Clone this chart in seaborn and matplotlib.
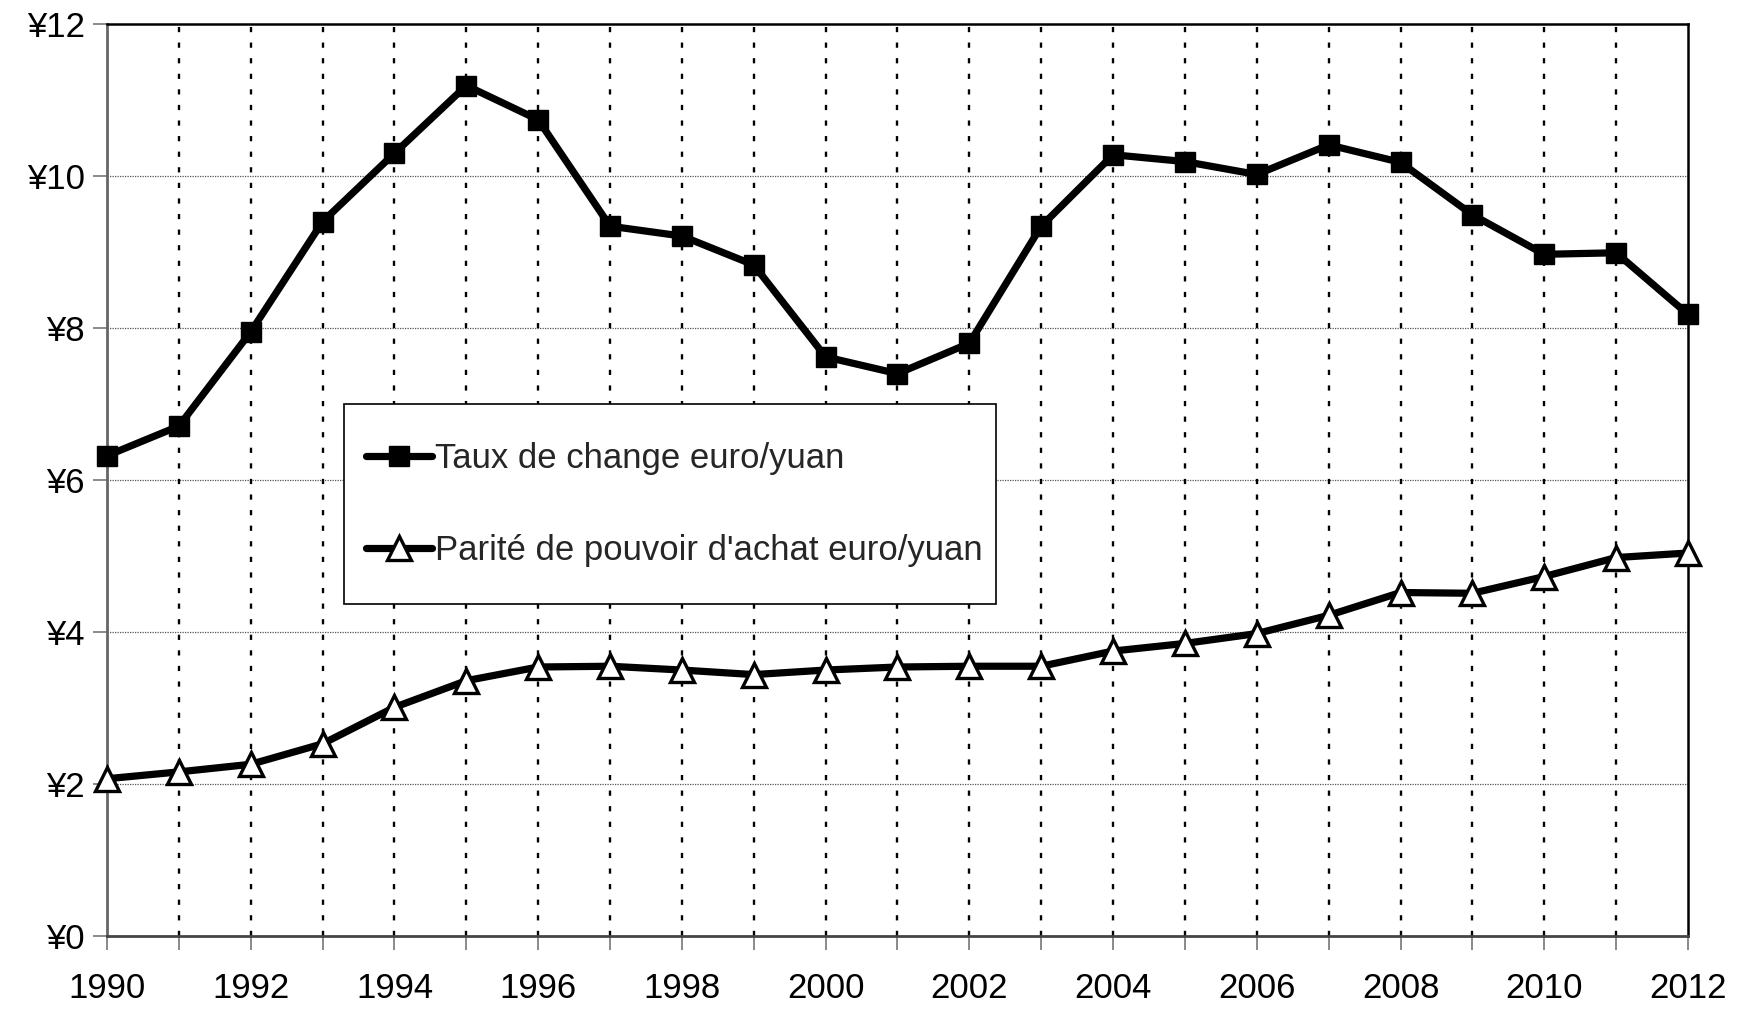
import matplotlib
matplotlib.use("Agg")
import seaborn as sns
import numpy as np
import pandas as pd
import matplotlib.pyplot as plt
from matplotlib.patches import Rectangle
from matplotlib.ticker import FuncFormatter, MultipleLocator

years = list(range(1990, 2013))
taux_change = [6.32, 6.71, 7.95, 9.40, 10.30, 11.19, 10.74, 9.34, 9.21, 8.83,
               7.62, 7.40, 7.80, 9.34, 10.28, 10.19, 10.02, 10.41, 10.18, 9.49,
               8.97, 8.99, 8.18]
parite_pa = [2.07, 2.16, 2.26, 2.53, 3.01, 3.36, 3.54, 3.55, 3.50, 3.44,
             3.50, 3.54, 3.55, 3.55, 3.75, 3.85, 3.98, 4.22, 4.52, 4.51,
             4.73, 4.98, 5.04]
label_taux = "Taux de change euro/yuan"
label_ppa = "Parité de pouvoir d'achat euro/yuan"

df = pd.DataFrame({
    "annee": years * 2,
    "valeur": taux_change + parite_pa,
    "serie": [label_taux] * len(years) + [label_ppa] * len(years),
})

sns.set_style("white")
plt.rcParams['font.family'] = ['Liberation Sans', 'DejaVu Sans']

fig = plt.figure(figsize=(17.49, 10.09), dpi=100)
ax = fig.add_axes([0.0612, 0.0723, 0.9039, 0.9039])

sns.lineplot(data=df, x="annee", y="valeur", hue="serie", style="serie",
             palette={label_taux: "black", label_ppa: "black"},
             markers={label_taux: "s", label_ppa: "^"},
             dashes=False, linewidth=5.2, markersize=15, ax=ax, zorder=5,
             legend=False)
# marker faces
lines = ax.get_lines()
lines[0].set_markerfacecolor("black")
lines[0].set_markeredgecolor("black")
lines[0].set_markeredgewidth(1)
lines[1].set_markerfacecolor("white")
lines[1].set_markeredgecolor("black")
lines[1].set_markeredgewidth(2.4)
lines[1].set_markersize(17)
for ln in lines[:2]:
    ln.set_clip_on(False)

ax.set_xlim(1990, 2012)
ax.set_ylim(0, 12)

# gridlines
for y in range(2, 12, 2):
    ax.axhline(y, color="#555555", lw=0.9, ls=(0, (1, 1)), zorder=1)
for yr in years[1:-1]:
    ax.axvline(yr, color="black", lw=1.7, ls=(0, (2.2, 4.4)), zorder=2)

ax.xaxis.set_major_locator(MultipleLocator(2))
ax.xaxis.set_minor_locator(MultipleLocator(1))
ax.yaxis.set_major_locator(MultipleLocator(2))
ax.yaxis.set_major_formatter(FuncFormatter(lambda v, p: "¥%d" % v))
ax.tick_params(axis="both", which="both", direction="out", color="#777777",
               width=1.2, labelsize=25, labelcolor="black")
ax.tick_params(axis="x", which="major", length=10, pad=16)
ax.tick_params(axis="x", which="minor", length=10)
ax.tick_params(axis="y", which="major", length=10, pad=6)
ax.tick_params(bottom=True, left=True, which="both")
ax.tick_params(axis="y", which="minor", left=False)

ax.set_xlabel("")
ax.set_ylabel("")

ax.spines["left"].set_color("#666666")
ax.spines["left"].set_linewidth(2)
ax.spines["bottom"].set_color("#444444")
ax.spines["bottom"].set_linewidth(2)
ax.spines["top"].set_color("black")
ax.spines["top"].set_linewidth(1.8)
ax.spines["right"].set_color("black")
ax.spines["right"].set_linewidth(1.8)

# legend box
ax.add_patch(Rectangle((0.1497, 0.3646), 0.4126, 0.2188, transform=ax.transAxes,
                       facecolor="white", edgecolor="black", lw=1.2,
                       zorder=9, clip_on=False))
leg = ax.legend(handles=lines[:2], labels=[label_taux, label_ppa],
                loc="center left", bbox_to_anchor=(0.1638, 0.4731),
                fontsize=25, frameon=False, handlelength=1.9,
                handletextpad=0.1, labelspacing=1.7, borderpad=0,
                borderaxespad=0)
leg.set_zorder(10)

fig.savefig("out.png", dpi=100)
